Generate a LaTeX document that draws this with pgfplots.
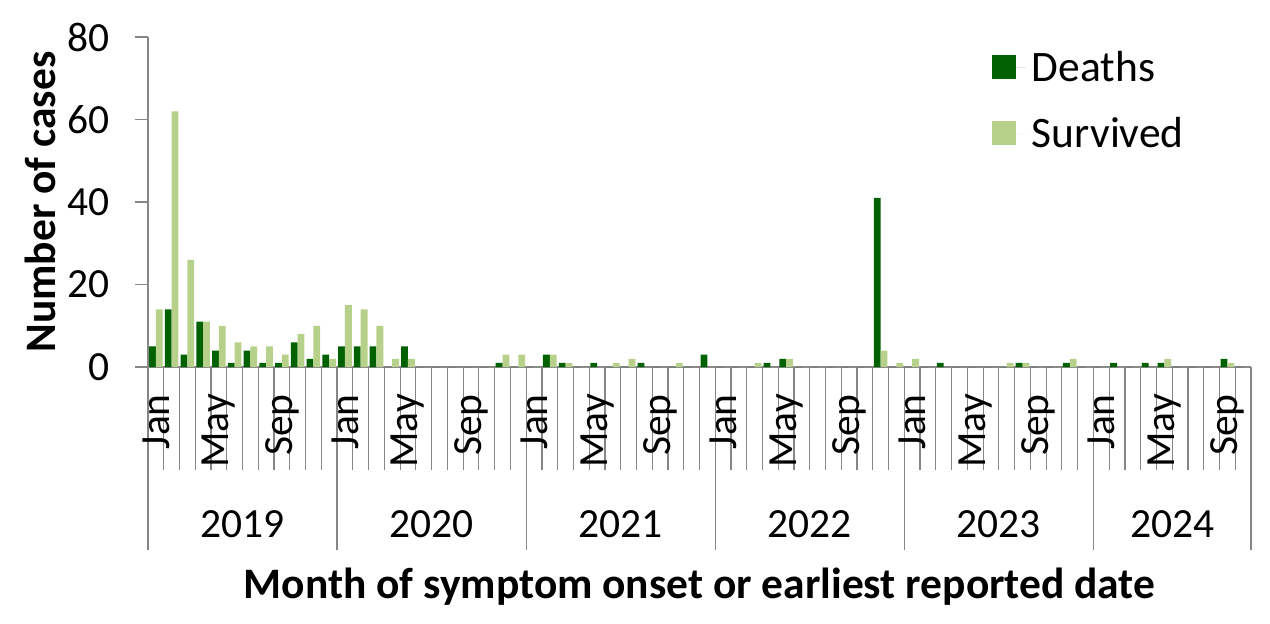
\documentclass[border=0pt]{standalone}
\usepackage{fontspec}
\setmainfont{Carlito}
\usepackage{pgfplots}
\pgfplotsset{compat=1.18}
\definecolor{deaths}{RGB}{0,97,0}
\definecolor{survived}{RGB}{183,209,139}
\definecolor{axgray}{RGB}{134,134,134}
\newcommand{\bigf}{\fontsize{41.5bp}{49bp}\selectfont}
\newcommand{\titf}{\fontsize{43.5bp}{52bp}\selectfont}
\begin{document}
\begin{tikzpicture}
\useasboundingbox (-148bp,-257bp) rectangle (1122bp,367bp);
% year dividers
\begin{axis}[
  at={(0,0)}, anchor=south west,
  scale only axis, width=1103bp, height=330bp,
  xmin=-0.5, xmax=69.5, ymin=0, ymax=80,
  hide y axis,
  axis x line*=bottom,
  axis line style={draw=axgray, line width=1.2bp},
  xtick={-0.5,11.5,23.5,35.5,47.5,59.5,69.5},
  xticklabels={},
  tick align=outside,
  major tick length=183bp,
  xtick style={draw=axgray, line width=1.2bp},
]
\addplot[draw=none] coordinates {(0,0)};
\end{axis}
\begin{axis}[
  at={(0,0)}, anchor=south west,
  scale only axis, width=1103bp, height=330bp,
  xmin=-0.5, xmax=69.5, ymin=0, ymax=80,
  axis x line*=bottom, axis y line*=left,
  axis line style={draw=axgray, line width=1.2bp},
  ybar=0pt, bar width=6.8bp,
  ytick={0,20,40,60,80},
  xtick={0,4,...,68},
  xticklabels={Jan,May,Sep,Jan,May,Sep,Jan,May,Sep,Jan,May,Sep,Jan,May,Sep,Jan,May,Sep},
  minor xtick={-0.5,0.5,...,69.5},
  tick align=outside,
  major tick length=13bp,
  minor tick length=103bp,
  ytick style={draw=axgray, line width=1.2bp},
  major x tick style={draw=none},
  minor x tick style={draw=axgray, line width=1.2bp},
  /pgf/number format/assume math mode=true,
  tick label style={font=\bigf},
  yticklabel style={inner sep=0pt, xshift=-25bp},
  xticklabel style={rotate=90, anchor=east, inner sep=0pt},
  xticklabel shift=14bp,
  legend style={at={(rel axis cs:0.765,0.975)}, anchor=north west, draw=none, fill=none,
    font=\titf, row sep=22bp, inner sep=0pt, nodes={inner sep=6bp}},
  legend image code/.code={\fill[#1] (0bp,-12bp) rectangle (24bp,12bp);\path (0bp,0bp) -- (34bp,0bp);},
  legend cell align=left,
  clip=false,
]
\addplot[fill=deaths, draw=none] coordinates {
(0,5)(1,14)(2,3)(3,11)(4,4)(5,1)(6,4)(7,1)(8,1)(9,6)(10,2)(11,3)
(12,5)(13,5)(14,5)(15,0)(16,5)(17,0)(18,0)(19,0)(20,0)(21,0)(22,1)(23,0)
(24,0)(25,3)(26,1)(27,0)(28,1)(29,0)(30,0)(31,1)(32,0)(33,0)(34,0)(35,3)
(36,0)(37,0)(38,0)(39,1)(40,2)(41,0)(42,0)(43,0)(44,0)(45,0)(46,41)(47,0)
(48,0)(49,0)(50,1)(51,0)(52,0)(53,0)(54,0)(55,1)(56,0)(57,0)(58,1)(59,0)
(60,0)(61,1)(62,0)(63,1)(64,1)(65,0)(66,0)(67,0)(68,2)(69,0)};
\addlegendentry{Deaths}
\addplot[fill=survived, draw=none] coordinates {
(0,14)(1,62)(2,26)(3,11)(4,10)(5,6)(6,5)(7,5)(8,3)(9,8)(10,10)(11,2)
(12,15)(13,14)(14,10)(15,2)(16,2)(17,0)(18,0)(19,0)(20,0)(21,0)(22,3)(23,3)
(24,0)(25,3)(26,1)(27,0)(28,0)(29,1)(30,2)(31,0)(32,0)(33,1)(34,0)(35,0)
(36,0)(37,0)(38,1)(39,0)(40,2)(41,0)(42,0)(43,0)(44,0)(45,0)(46,4)(47,1)
(48,2)(49,0)(50,0)(51,0)(52,0)(53,0)(54,1)(55,1)(56,0)(57,0)(58,2)(59,0)
(60,0)(61,0)(62,0)(63,0)(64,2)(65,0)(66,0)(67,0)(68,1)(69,0)};
\addlegendentry{Survived}
\node[anchor=base, font=\bigf, inner sep=0pt, yshift=-170bp] at (axis cs:5.5,0) {2019};
\node[anchor=base, font=\bigf, inner sep=0pt, yshift=-170bp] at (axis cs:17.5,0) {2020};
\node[anchor=base, font=\bigf, inner sep=0pt, yshift=-170bp] at (axis cs:29.5,0) {2021};
\node[anchor=base, font=\bigf, inner sep=0pt, yshift=-170bp] at (axis cs:41.5,0) {2022};
\node[anchor=base, font=\bigf, inner sep=0pt, yshift=-170bp] at (axis cs:53.5,0) {2023};
\node[anchor=base, font=\bigf, inner sep=0pt, yshift=-170bp] at (axis cs:64.5,0) {2024};
\node[anchor=base, font=\titf\bfseries, inner sep=0pt, yshift=-231bp] at (rel axis cs:0.5,0)
  {Month of symptom onset or earliest reported date};
\node[xshift=-108bp, rotate=90, anchor=center, font=\titf\bfseries, inner sep=0pt] at (rel axis cs:0,0.5)
  {Number of cases};
\end{axis}
\end{tikzpicture}
\end{document}
